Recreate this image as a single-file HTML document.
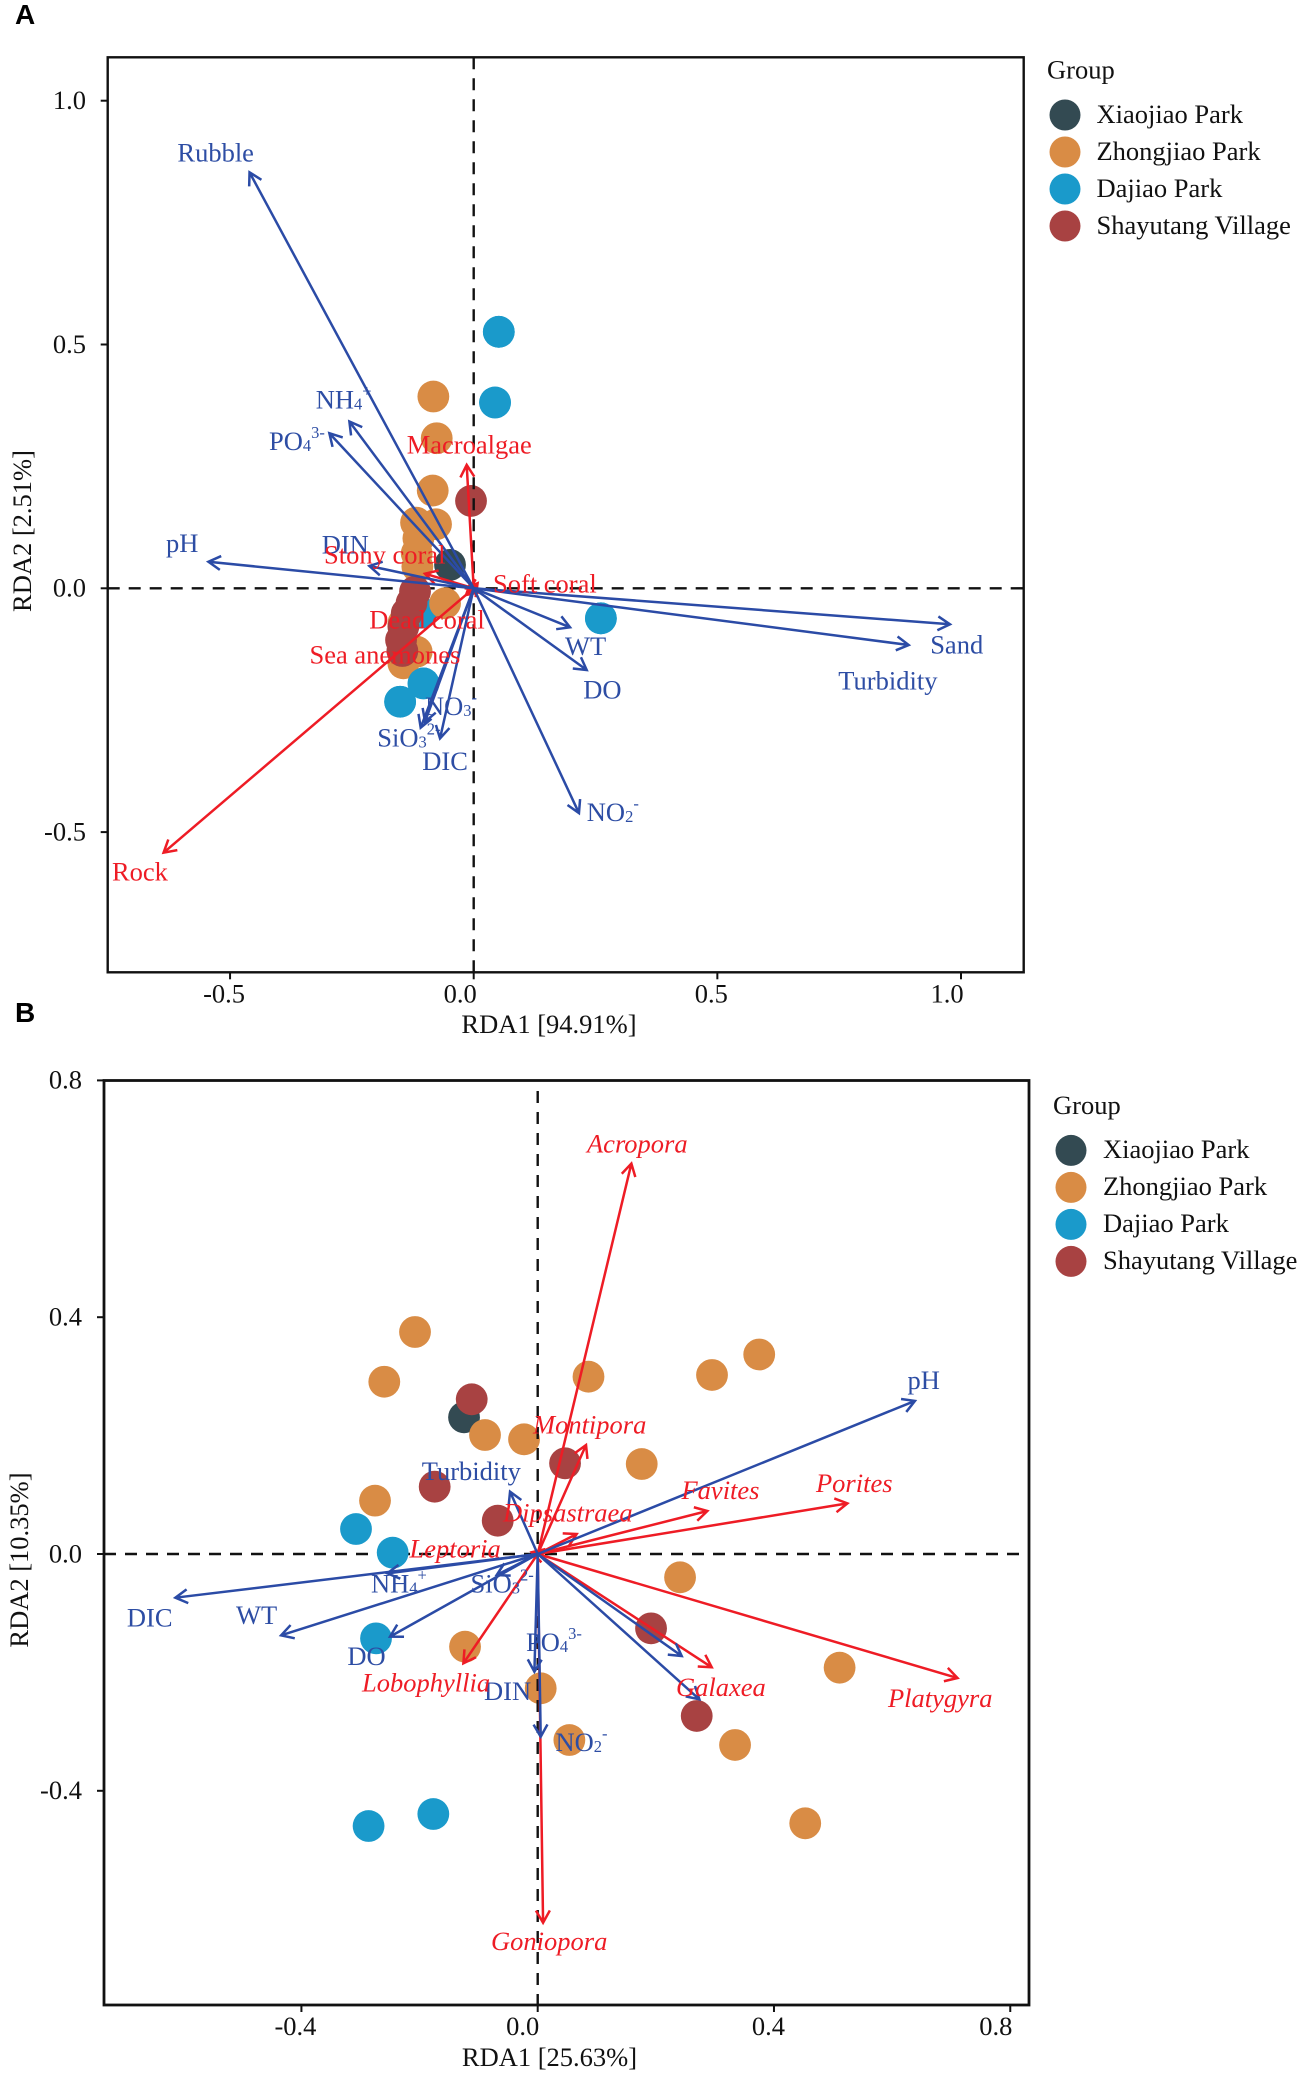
<!DOCTYPE html>
<html lang="en">
<head>
<meta charset="utf-8">
<title>RDA ordination plots</title>
<style>
html,body{margin:0;padding:0;background:#fff;}
#figure{display:block;width:1299px;height:2076px;}
text{font-family:"Liberation Serif","Times New Roman",serif;font-size:26.5px;}
.blue{fill:#2d4da4;}
.red{fill:#ee1c25;}
.it{font-style:italic;}
.blk{fill:#111;}
.letter{font-family:"Liberation Sans",Arial,sans-serif;font-weight:700;font-size:28px;fill:#000;}
</style>
</head>
<body>
<svg id="figure" xmlns="http://www.w3.org/2000/svg" width="1299" height="2076" viewBox="0 0 1299 2076">
  <rect x="0" y="0" width="1299" height="2076" fill="#fff"/>
  <text class="letter" x="15" y="24">A</text>
  <text class="letter" x="15" y="1022">B</text>

  <g id="panelA"></g>
  <g id="panelB"></g>

  <g>
    <text class="blk" x="549" y="1033" text-anchor="middle">RDA1 [94.91%]</text>
    <text class="blk" transform="translate(31,531) rotate(-90)" text-anchor="middle">RDA2 [2.51%]</text>
  </g>
  <g>
    <text class="blk" x="549.5" y="2066" text-anchor="middle">RDA1 [25.63%]</text>
    <text class="blk" transform="translate(28,1560) rotate(-90)" text-anchor="middle">RDA2 [10.35%]</text>
  </g>

  <g>
    <text class="blk" x="1047" y="78.5">Group</text>
    <circle cx="1065" cy="115" r="15.5" fill="#334a52"/>
    <text class="blk" x="1096.5" y="123">Xiaojiao Park</text>
    <circle cx="1065" cy="152" r="15.5" fill="#d98c45"/>
    <text class="blk" x="1096.5" y="160">Zhongjiao Park</text>
    <circle cx="1065" cy="189" r="15.5" fill="#1a9acb"/>
    <text class="blk" x="1096.5" y="197">Dajiao Park</text>
    <circle cx="1065" cy="226" r="15.5" fill="#a84242"/>
    <text class="blk" x="1096.5" y="234">Shayutang Village</text>
  </g>
  <g>
    <text class="blk" x="1053" y="1114">Group</text>
    <circle cx="1071" cy="1150.4" r="15.5" fill="#334a52"/>
    <text class="blk" x="1103" y="1158">Xiaojiao Park</text>
    <circle cx="1071" cy="1187.4" r="15.5" fill="#d98c45"/>
    <text class="blk" x="1103" y="1195">Zhongjiao Park</text>
    <circle cx="1071" cy="1224.4" r="15.5" fill="#1a9acb"/>
    <text class="blk" x="1103" y="1232">Dajiao Park</text>
    <circle cx="1071" cy="1261.4" r="15.5" fill="#a84242"/>
    <text class="blk" x="1103" y="1269">Shayutang Village</text>
  </g>

  <g id="labelsA">
    <text class="blue" x="177.4" y="161.7">Rubble</text>
    <text class="blue" x="315.7" y="408.3">NH<tspan font-size="16.5" dy="1">4</tspan><tspan font-size="16.5" dy="-13">+</tspan></text>
    <text class="blue" x="269" y="450">PO<tspan font-size="16.5" dy="1">4</tspan><tspan font-size="16.5" dy="-13">3-</tspan></text>
    <text class="blue" x="166" y="552">pH</text>
    <text class="blue" x="321.7" y="553.3">DIN</text>
    <text class="blue" x="930.2" y="653.6">Sand</text>
    <text class="blue" x="838.3" y="689.3">Turbidity</text>
    <text class="blue" x="565" y="655">WT</text>
    <text class="blue" x="583.3" y="698.3">DO</text>
    <text class="blue" x="425" y="715">NO<tspan font-size="16.5" dy="1">3</tspan><tspan font-size="16.5" dy="-13">-</tspan></text>
    <text class="blue" x="377.3" y="746.7">SiO<tspan font-size="16.5" dy="1">3</tspan><tspan font-size="16.5" dy="-13">2-</tspan></text>
    <text class="blue" x="422.3" y="770">DIC</text>
    <text class="blue" x="586.8" y="820.8">NO<tspan font-size="16.5" dy="1">2</tspan><tspan font-size="16.5" dy="-13">-</tspan></text>
    <text class="red" x="406.7" y="453.3">Macroalgae</text>
    <text class="red" x="324" y="563.3">Stony coral</text>
    <text class="red" x="493" y="592.7">Soft coral</text>
    <text class="red" x="369.3" y="628.3">Dead coral</text>
    <text class="red" x="309.5" y="663.3">Sea anemones</text>
    <text class="red" x="112" y="880.5">Rock</text>
  </g>

  <g id="labelsB">
    <text class="blue" x="907.5" y="1389">pH</text>
    <text class="blue" x="421.7" y="1480">Turbidity</text>
    <text class="blue" x="371" y="1592.7">NH<tspan font-size="16.5" dy="1">4</tspan><tspan font-size="16.5" dy="-13">+</tspan></text>
    <text class="blue" x="470.5" y="1592.5">SiO<tspan font-size="16.5" dy="1">3</tspan><tspan font-size="16.5" dy="-13">2-</tspan></text>
    <text class="blue" x="236" y="1624">WT</text>
    <text class="blue" x="126.9" y="1626.7">DIC</text>
    <text class="blue" x="526" y="1651">PO<tspan font-size="16.5" dy="1">4</tspan><tspan font-size="16.5" dy="-13">3-</tspan></text>
    <text class="blue" x="347.4" y="1665">DO</text>
    <text class="blue" x="484" y="1700">DIN</text>
    <text class="blue" x="555.5" y="1751">NO<tspan font-size="16.5" dy="1">2</tspan><tspan font-size="16.5" dy="-13">-</tspan></text>
    <text class="red it" x="587" y="1152.5">Acropora</text>
    <text class="red it" x="533" y="1433.3">Montipora</text>
    <text class="red it" x="816" y="1491.8">Porites</text>
    <text class="red it" x="681.5" y="1499">Favites</text>
    <text class="red it" x="503" y="1521.7">Dipsastraea</text>
    <text class="red it" x="409.5" y="1557.7">Leptoria</text>
    <text class="red it" x="362" y="1691.7">Lobophyllia</text>
    <text class="red it" x="676" y="1696">Galaxea</text>
    <text class="red it" x="888" y="1706.9">Platygyra</text>
    <text class="red it" x="491" y="1950">Goniopora</text>
  </g>
</svg>

<script>
/* ---------- Panel A data ---------- */
const aXTicks = [-0.5, 0, 0.5, 1.0];
const aXTickLabels = ['-0.5', '0.0', '0.5', '1.0'];
const aYTicks = [-0.5, 0, 0.5, 1.0];
const aYTickLabels = ['-0.5', '0.0', '0.5', '1.0'];

const aXiaojiaoX = [-0.0486];
const aXiaojiaoY = [0.048];
const aZhongjiaoX = [-0.0828, -0.0759, -0.0841, -0.0773, -0.1183, -0.1135, -0.117, -0.1156, -0.0588, -0.117, -0.1443, -0.1443];
const aZhongjiaoY = [0.3933, 0.3078, 0.2004, 0.1313, 0.1347, 0.1026, 0.0718, 0.0445, -0.0308, -0.13, -0.1539, -0.0718];
const aDajiaoX = [0.0515, 0.0438, 0.261, -0.103, -0.151, -0.108];
const aDajiaoY = [0.526, 0.381, -0.0616, -0.195, -0.2326, -0.05];
const aShayutangX = [-0.0055, -0.1204, -0.1275, -0.1375, -0.1443, -0.1491, -0.1464];
const aShayutangY = [0.1792, -0.0068, -0.03, -0.0513, -0.0787, -0.106, -0.1286];

const aEnvNames = ['rubble', 'nh4', 'po4', 'ph', 'din', 'sand', 'turbidity', 'wt', 'do', 'no2', 'dic', 'sio3', 'no3'];
const aEnvX = [-0.46, -0.2551, -0.2962, -0.5444, -0.2141, 0.9774, 0.8927, 0.1977, 0.2319, 0.216, -0.0691, -0.1088, -0.0999];
const aEnvY = [0.853, 0.342, 0.318, 0.0544, 0.0458, -0.0738, -0.1163, -0.08, -0.1676, -0.4609, -0.3078, -0.2859, -0.2736];

const aCoverNames = ['macroalgae', 'stony-coral', 'soft-coral', 'dead-coral', 'sea-anemones', 'rock'];
const aCoverX = [-0.0144, -0.1, 0.008, -0.0157, -0.011, -0.6364];
const aCoverY = [0.2531, 0.03, 0.0103, -0.0137, -0.006, -0.5422];

/* ---------- Panel B data ---------- */
const bXTicks = [-0.4, 0, 0.4, 0.8];
const bXTickLabels = ['-0.4', '0.0', '0.4', '0.8'];
const bYTicks = [-0.4, 0, 0.4, 0.8];
const bYTickLabels = ['-0.4', '0.0', '0.4', '0.8'];

const bXiaojiaoX = [-0.1247];
const bXiaojiaoY = [0.2309];
const bZhongjiaoX = [-0.2754, -0.0892, -0.0231, 0.1761, 0.241, -0.123, 0.0051, 0.0536, 0.3341, -0.2077, -0.2597, 0.0860, 0.2951, 0.375, 0.5111, 0.4529];
const bZhongjiaoY = [0.0901, 0.201, 0.1937, 0.152, -0.0394, -0.1565, -0.2269, -0.3142, -0.3226, 0.375, 0.291, 0.2995, 0.3024, 0.337, -0.192, -0.4549];
const bDajiaoX = [-0.3076, -0.2455, -0.2737, -0.2863, -0.1767];
const bDajiaoY = [0.0422, 0.0023, -0.1425, -0.4595, -0.4392];
const bShayutangX = [-0.1117, 0.0463, -0.1744, -0.0677, 0.1919, 0.2692];
const bShayutangY = [0.2613, 0.1532, 0.1137, 0.0563, -0.1256, -0.2736];

const bEnvNames = ['ph', 'turbidity', 'nh4', 'sio3', 'dic', 'wt', 'do', 'po4', 'din', 'no2', 'no3'];
const bEnvX = [0.6386, -0.0468, -0.2545, -0.0694, -0.6134, -0.4344, -0.25, -0.0056, 0.0051, 0.2438, 0.2737];
const bEnvY = [0.2586, 0.1053, -0.0327, -0.0355, -0.0738, -0.1374, -0.1396, -0.1988, -0.3086, -0.1723, -0.2455];

const bGenusNames = ['acropora', 'montipora', 'dipsastraea', 'favites', 'porites', 'platygyra', 'galaxea', 'leptoria', 'lobophyllia', 'goniopora'];
const bGenusX = [0.1586, 0.0818, 0.066, 0.2872, 0.5243, 0.7107, 0.2946, -0.01, -0.1258, 0.0091];
const bGenusY = [0.6595, 0.1841, 0.0338, 0.0726, 0.0855, -0.2095, -0.1914, 0.003, -0.1847, -0.6228];

/* ---------- Drawing ---------- */
const SVGNS = 'http://www.w3.org/2000/svg';
const COL_XIAOJIAO = '#334a52', COL_ZHONGJIAO = '#d98c45', COL_DAJIAO = '#1a9acb', COL_SHAYUTANG = '#a84242';
const COL_BLUE = '#2b4ba6', COL_RED = '#ee1c25';

function make(parent, tag, attrs) {
  const el = document.createElementNS(SVGNS, tag);
  for (const k in attrs) el.setAttribute(k, attrs[k]);
  parent.appendChild(el);
  return el;
}

function drawDots(parent, xs, ys, sx, sy, color, name) {
  xs.forEach(function (v, i) {
    const c = make(parent, 'circle', { cx: sx(v), cy: sy(ys[i]), r: 15.9, fill: color });
    
    
  });
}

function drawArrows(parent, names, xs, ys, sx, sy, color) {
  const x0 = sx(0), y0 = sy(0);
  names.forEach(function (n, i) {
    const tx = sx(xs[i]), ty = sy(ys[i]);
    const ang = Math.atan2(ty - y0, tx - x0);
    const L = 14, spread = 0.52;
    const d = 'M' + x0 + ' ' + y0 + 'L' + tx + ' ' + ty +
      'M' + (tx - L * Math.cos(ang - spread)) + ' ' + (ty - L * Math.sin(ang - spread)) +
      'L' + tx + ' ' + ty +
      'L' + (tx - L * Math.cos(ang + spread)) + ' ' + (ty - L * Math.sin(ang + spread));
    const p = make(parent, 'path', { d: d, fill: 'none', stroke: color, 'stroke-width': 2.5 });
    
    
  });
}

function drawAxes(parent, box, sx, sy, xTicks, xLabels, xShift, yTicks, yLabels, yLabelRight, xBase, frameW) {
  xTicks.forEach(function (v, i) {
    const t = make(parent, 'line', { x1: sx(v), x2: sx(v), y1: box.b, y2: box.b + 7, stroke: '#111', 'stroke-width': 2 });
    
    
    const l = make(parent, 'text', { x: sx(v) + xShift[i], y: xBase, 'text-anchor': 'middle', fill: '#111' });
    
    
    l.textContent = xLabels[i];
  });
  yTicks.forEach(function (v, i) {
    const t = make(parent, 'line', { x1: box.l - 7, x2: box.l, y1: sy(v), y2: sy(v), stroke: '#111', 'stroke-width': 2 });
    
    
    const l = make(parent, 'text', { x: yLabelRight, y: sy(v) + 8.3, 'text-anchor': 'end', fill: '#111' });
    
    
    l.textContent = yLabels[i];
  });
  const f = make(parent, 'rect', { x: box.l, y: box.t, width: box.r - box.l, height: box.b - box.t, fill: 'none', stroke: '#111', 'stroke-width': frameW });
  
  
}

function dashLine(parent, x1, y1, x2, y2, name) {
  const l = make(parent, 'line', { x1: x1, y1: y1, x2: x2, y2: y2, stroke: '#111', 'stroke-width': 2.4, 'stroke-dasharray': '12 9' });
  
  
}

/* Panel A */
(function () {
  const g = document.getElementById('panelA');
  const box = { l: 107.7, r: 1023.7, t: 57.3, b: 972.3 };
  const sx = function (v) { return 473.7 + v * 487.3; };
  const sy = function (v) { return 588.3 - v * 487.6; };
  dashLine(g, box.l, sy(0), box.r, sy(0), 'zero-line-horizontal');
  drawDots(g, aXiaojiaoX, aXiaojiaoY, sx, sy, COL_XIAOJIAO, 'point-xiaojiao');
  drawDots(g, aDajiaoX, aDajiaoY, sx, sy, COL_DAJIAO, 'point-dajiao');
  drawDots(g, aZhongjiaoX, aZhongjiaoY, sx, sy, COL_ZHONGJIAO, 'point-zhongjiao');
  drawDots(g, aDajiaoX.slice(0, 5), aDajiaoY.slice(0, 5), sx, sy, COL_DAJIAO, 'point-dajiao');
  drawDots(g, aShayutangX, aShayutangY, sx, sy, COL_SHAYUTANG, 'point-shayutang');
  dashLine(g, sx(0), box.t, sx(0), box.b, 'zero-line-vertical');
  drawArrows(g, aCoverNames, aCoverX, aCoverY, sx, sy, COL_RED);
  drawArrows(g, aEnvNames, aEnvX, aEnvY, sx, sy, COL_BLUE);
  drawAxes(g, box, sx, sy, aXTicks, aXTickLabels, [-6, -13.5, -6, -14], aYTicks, aYTickLabels, 86, 1002.3, 2.4);
})();

/* Panel B */
(function () {
  const g = document.getElementById('panelB');
  const box = { l: 104, r: 1029, t: 1080.5, b: 2005 };
  const sx = function (v) { return 537.7 + v * 590.7; };
  const sy = function (v) { return 1554 - v * 592; };
  dashLine(g, box.l, sy(0), box.r, sy(0), 'zero-line-horizontal');
  drawDots(g, bXiaojiaoX, bXiaojiaoY, sx, sy, COL_XIAOJIAO, 'point-xiaojiao');
  drawDots(g, bZhongjiaoX, bZhongjiaoY, sx, sy, COL_ZHONGJIAO, 'point-zhongjiao');
  drawDots(g, bDajiaoX, bDajiaoY, sx, sy, COL_DAJIAO, 'point-dajiao');
  drawDots(g, bShayutangX, bShayutangY, sx, sy, COL_SHAYUTANG, 'point-shayutang');
  dashLine(g, sx(0), 1091, sx(0), box.b, 'zero-line-vertical');
  drawArrows(g, bGenusNames, bGenusX, bGenusY, sx, sy, COL_RED);
  drawArrows(g, bEnvNames, bEnvX, bEnvY, sx, sy, COL_BLUE);
  drawAxes(g, box, sx, sy, bXTicks, bXTickLabels, [-6, -15, -5.5, -14.5], bYTicks, bYTickLabels, 82, 2035, 2.8);
})();
</script>
</body>
</html>
